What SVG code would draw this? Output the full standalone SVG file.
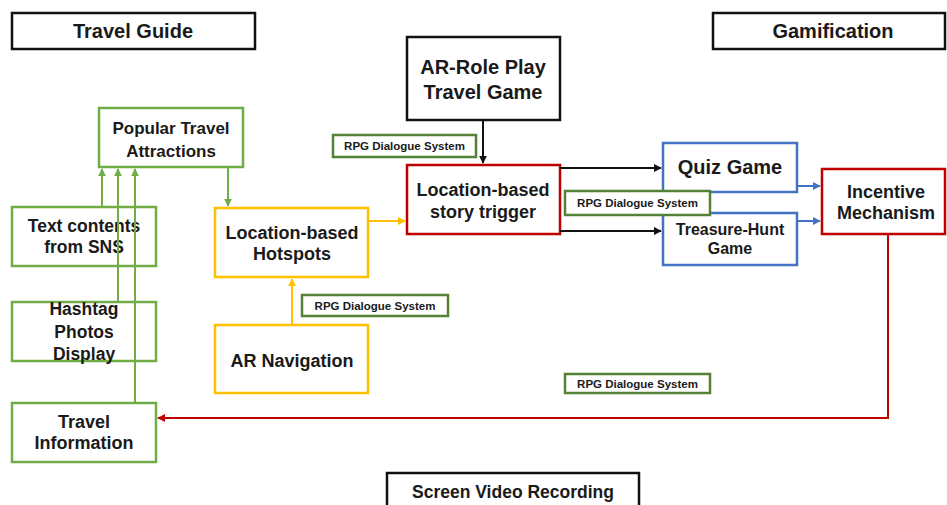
<svg xmlns="http://www.w3.org/2000/svg" width="947" height="505" viewBox="0 0 947 505">
<defs>
<style>
text{font-family:"Liberation Sans",Arial,sans-serif;font-weight:bold;fill:#1a1a1a;text-anchor:middle;dominant-baseline:central}
.box{fill:#fff;stroke-width:2.5}
.k{stroke:#111}.g{stroke:#70AD47}.y{stroke:#FFC000}.r{stroke:#C00000}.b{stroke:#4472C4}
.rpg{fill:#fff;stroke:#548235;stroke-width:2.5}
.rpgt{font-size:11.5px}
.ln{fill:none;stroke-width:2}
</style>
<marker id="ag" viewBox="0 0 10 10" refX="9" refY="5" markerWidth="4" markerHeight="4" orient="auto"><path d="M0,0L10,5L0,10z" fill="#70AD47"/></marker>
<marker id="ay" viewBox="0 0 10 10" refX="9" refY="5" markerWidth="4" markerHeight="4" orient="auto"><path d="M0,0L10,5L0,10z" fill="#FFC000"/></marker>
<marker id="ak" viewBox="0 0 10 10" refX="9" refY="5" markerWidth="4" markerHeight="4" orient="auto"><path d="M0,0L10,5L0,10z" fill="#111"/></marker>
<marker id="ab" viewBox="0 0 10 10" refX="9" refY="5" markerWidth="4" markerHeight="4" orient="auto"><path d="M0,0L10,5L0,10z" fill="#4472C4"/></marker>
<marker id="ar" viewBox="0 0 10 10" refX="9" refY="5" markerWidth="4" markerHeight="4" orient="auto"><path d="M0,0L10,5L0,10z" fill="#C00000"/></marker>
</defs>
<rect width="947" height="505" fill="#fff"/>

<g id="travel-guide"><rect class="box k" x="12" y="13" width="243" height="36"/><text x="133" y="31" font-size="20">Travel Guide</text></g>
<g id="gamification"><rect class="box k" x="713" y="13" width="232" height="36"/><text x="833" y="31" font-size="20">Gamification</text></g>

<g id="popular"><rect class="box g" x="99" y="108" width="144" height="59"/><text x="171" y="128" font-size="17">Popular Travel</text><text x="171" y="151" font-size="17">Attractions</text></g>
<g id="text-sns"><rect class="box g" x="12" y="207" width="144" height="59"/><text x="84" y="226" font-size="17.5">Text contents</text><text x="84" y="247" font-size="17.5">from SNS</text></g>
<g id="hashtag"><rect class="box g" x="12" y="302" width="144" height="59"/><text x="84" y="309" font-size="17.5">Hashtag</text><text x="84" y="332" font-size="17.5">Photos</text><text x="84" y="354" font-size="17.5">Display</text></g>
<g id="travel-info"><rect class="box g" x="12" y="403" width="144" height="59"/><text x="84" y="422" font-size="18">Travel</text><text x="84" y="443" font-size="18">Information</text></g>

<g id="hotspots"><rect class="box y" x="215" y="208" width="153" height="69"/><text x="292" y="233" font-size="18">Location-based</text><text x="292" y="254" font-size="18">Hotspots</text></g>
<g id="ar-nav"><rect class="box y" x="215" y="325" width="153" height="68"/><text x="292" y="361" font-size="18">AR Navigation</text></g>

<g id="ar-rpg"><rect class="box k" x="407" y="37" width="153" height="83"/><text x="483" y="67" font-size="20">AR-Role Play</text><text x="483" y="92" font-size="20">Travel Game</text></g>
<g id="story-trigger"><rect class="box r" x="407" y="165" width="153" height="69"/><text x="483" y="190" font-size="18">Location-based</text><text x="483" y="212" font-size="18">story trigger</text></g>

<g id="quiz"><rect class="box b" x="663" y="143" width="134" height="49"/><text x="730" y="167" font-size="20">Quiz Game</text></g>
<g id="treasure"><rect class="box b" x="663" y="213" width="134" height="52"/><text x="730" y="229" font-size="16">Treasure-Hunt</text><text x="730" y="248" font-size="16">Game</text></g>
<g id="incentive"><rect class="box r" x="822" y="169" width="123" height="65"/><text x="886" y="192" font-size="18">Incentive</text><text x="886" y="213" font-size="18">Mechanism</text></g>

<g id="screen-video"><rect class="box k" x="387" y="473" width="252" height="40"/><text x="513" y="492" font-size="17.5">Screen Video Recording</text></g>

<g id="connectors">
<path class="ln g" d="M102,207V169" marker-end="url(#ag)"/>
<path class="ln g" d="M118,302V169" marker-end="url(#ag)"/>
<path class="ln g" d="M135,403V169" marker-end="url(#ag)"/>
<path class="ln g" d="M228,167V206" marker-end="url(#ag)"/>
<path class="ln y" d="M292,325V279" marker-end="url(#ay)"/>
<path class="ln y" d="M368,221H405" marker-end="url(#ay)"/>
<path class="ln k" d="M483,120V163" marker-end="url(#ak)"/>
<path class="ln k" d="M560,168H661" marker-end="url(#ak)"/>
<path class="ln k" d="M560,231H661" marker-end="url(#ak)"/>
<path class="ln b" d="M797,186H820" marker-end="url(#ab)"/>
<path class="ln b" d="M797,221H820" marker-end="url(#ab)"/>
<path class="ln r" d="M888,234V418H158" marker-end="url(#ar)"/>
</g>

<g id="rpg1"><rect class="rpg" x="333" y="135" width="143" height="22"/><text class="rpgt" x="404.5" y="146">RPG Dialogue System</text></g>
<g id="rpg2"><rect class="rpg" x="565" y="191" width="145" height="24"/><text class="rpgt" x="637.5" y="203">RPG Dialogue System</text></g>
<g id="rpg3"><rect class="rpg" x="302" y="295" width="146" height="21"/><text class="rpgt" x="375" y="305.5">RPG Dialogue System</text></g>
<g id="rpg4"><rect class="rpg" x="565" y="374" width="145" height="19"/><text class="rpgt" x="637.5" y="383.5">RPG Dialogue System</text></g>
</svg>
